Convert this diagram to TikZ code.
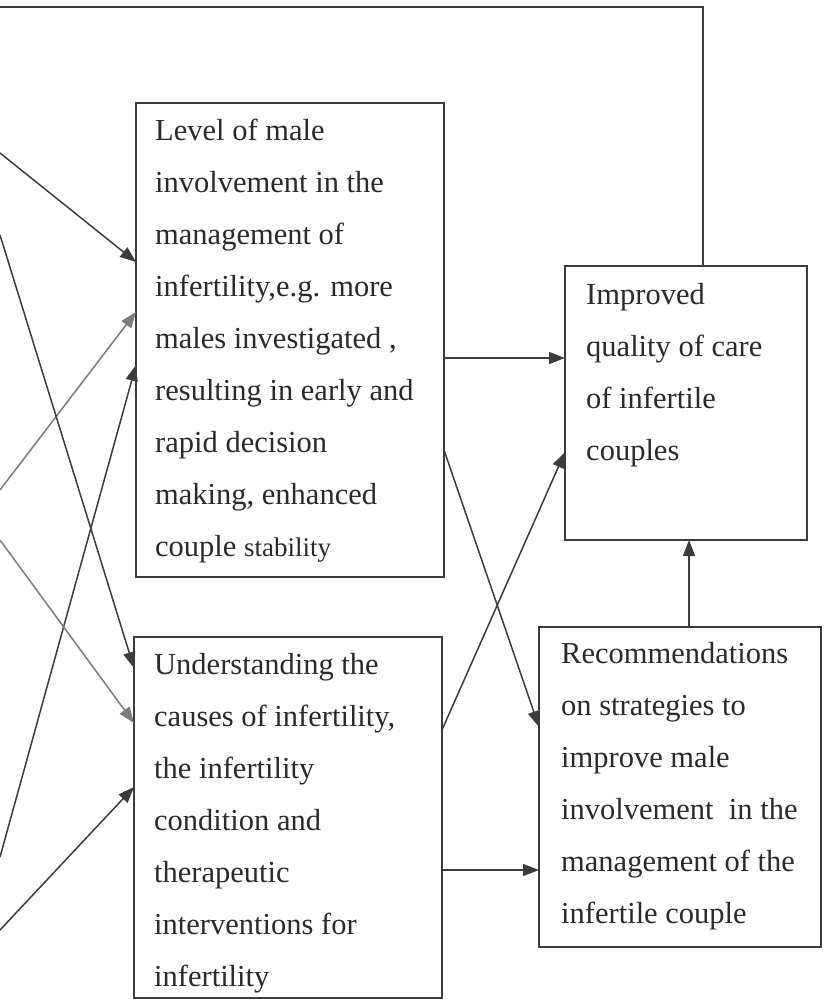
\documentclass[tikz,border=0pt]{standalone}
\usepackage{fontspec}
\setmainfont{Liberation Serif}
\usetikzlibrary{arrows.meta,calc}
\definecolor{linecol}{HTML}{3C3C3C}
\definecolor{graycol}{HTML}{7C7C7C}
\definecolor{txtcol}{HTML}{2A2A2A}
\tikzset{
  box/.style={draw=linecol, line width=1.5pt, anchor=north west, inner sep=0pt, outer sep=0pt},
  txt/.style={anchor=north west, inner sep=0pt, align=left, text=txtcol, font=\fontsize{30.5}{52}\selectfont},
  arr/.style={draw=linecol, line width=1.5pt, -{Triangle[length=16pt,width=12pt]}},
  garr/.style={draw=graycol, line width=1.5pt, -{Triangle[length=16pt,width=12pt]}},
  plain/.style={draw=linecol, line width=1.5pt}
}
\begin{document}
\begin{tikzpicture}[x=1pt,y=-1pt]
\fill[white] (0,0) rectangle (823,1000);
\useasboundingbox (0,0) rectangle (823,1000);

% boxes
\node[box, minimum width=308pt, minimum height=474pt] (b1) at (136,103) {};
\node[box, minimum width=308pt, minimum height=361pt] (b2) at (134,637) {};
\node[box, minimum width=242pt, minimum height=274pt] (imp) at (565,266) {};
\node[box, minimum width=282pt, minimum height=320pt] (rec) at (539,627) {};

% texts
\node[txt] (t1) at (155,118) {\rule{0pt}{22pt}Level of male\\involvement in the\\management of\\infertility,e.g. more\\males investigated ,\\resulting in early and\\rapid decision\\making, enhanced\\couple {\fontsize{27}{52}\selectfont stability}};
\node[txt] (t2) at (154,652) {\rule{0pt}{22pt}Understanding the\\causes of infertility,\\the infertility\\condition and\\therapeutic\\interventions for\\infertility};
\node[txt] (t3) at (586,282) {\rule{0pt}{22pt}Improved\\quality of care\\of infertile\\couples};
\node[txt] (t4) at (561,641) {\rule{0pt}{22pt}Recommendations\\on strategies to\\improve male\\involvement~ in the\\management of the\\infertile couple};

% free ends on the left
\coordinate (s1) at (0,153);
\coordinate (s2) at (0,490);
\coordinate (s3) at (0,857);
\coordinate (s4) at (0,235);
\coordinate (s5) at (0,540);
\coordinate (s6) at (0,930);
\coordinate (ctop) at (0,7);

% left arrows into box 1
\draw[arr]  (s1) -- ($(b1.north west)+(0,159)$);
\draw[garr] (s2) -- ($(b1.north west)+(0,209)$);
\draw[arr]  (s3) -- ($(b1.north west)+(0,262)$);
% left arrows into box 2
\draw[arr]  (s4) -- ($(b2.north west)+(0,31)$);
\draw[garr] (s5) -- ($(b2.north west)+(0,86)$);
\draw[arr]  (s6) -- ($(b2.north west)+(0,150)$);

% right side arrows
\draw[arr] ($(b1.north east)+(0,255)$) -- ($(imp.north west)+(0,92)$);
\draw[arr] ($(b1.north east)+(0,347)$) -- ($(rec.north west)+(0,100)$);
\draw[arr] ($(b2.north east)+(0,93)$) -- ($(imp.north west)+(0,186)$);
\draw[arr] ($(b2.north east)+(0,233)$) -- ($(rec.north west)+(0,243)$);
\draw[arr] ($(rec.north west)+(150,0)$) -- ($(imp.south west)+(124,0)$);

% feedback line at the top
\draw[plain] ($(imp.north west)+(138,0)$) |- (ctop);
\end{tikzpicture}
\end{document}
